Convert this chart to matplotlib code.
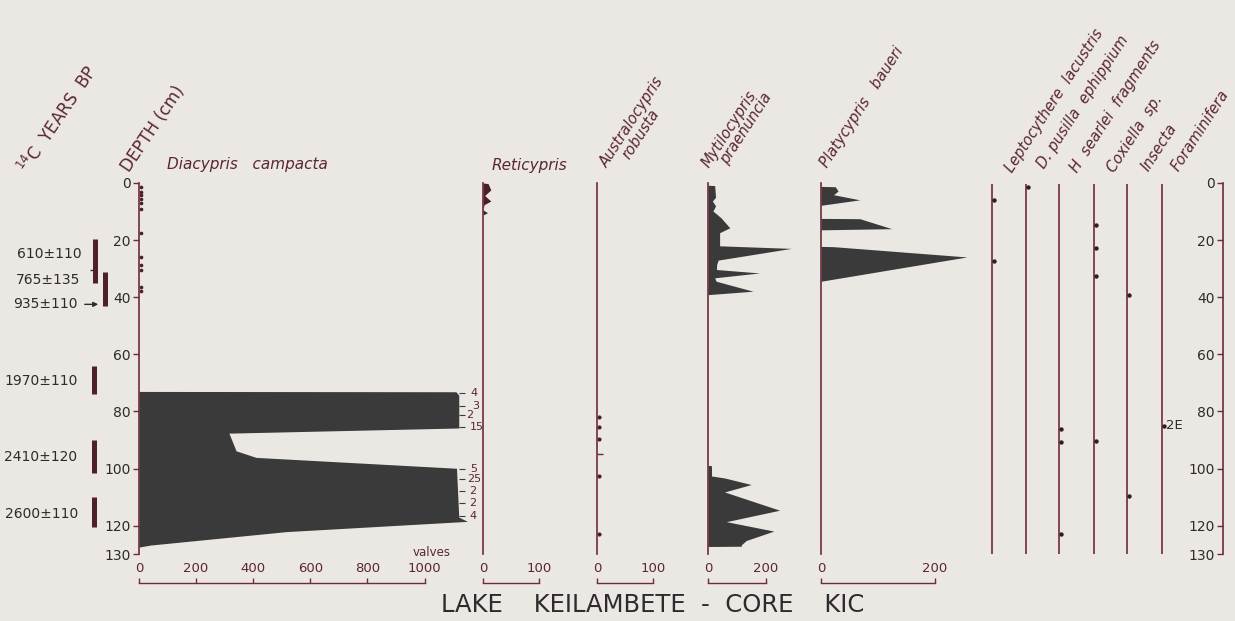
import matplotlib

matplotlib.use("Agg")
import matplotlib.pyplot as plt

W, H, DPI = 1235, 621, 100
Y0, Y130 = 183.0, 554.2  # pixel rows of depth 0 and 130 cm

BG = "#ebe7e3"
LINE = "#6d2b3b"
FILL = "#393a39"
TEXT = "#5a2634"
DARK = "#2f2a2d"

DEPTH_TICKS = [0, 20, 40, 60, 80, 100, 120, 130]

# 14C dates
DATE_LABELS = ["610±110", "765±135", "935±110", "1970±110", "2410±120", "2600±110"]
DATE_LABEL_DEPTH = [25.0, 34.0, 42.5, 69.5, 96.0, 116.0]
DATE_BAR_TOP = [19.7, 31.0, 64.0, 90.0, 110.0]
DATE_BAR_BOTTOM = [35.0, 43.0, 74.0, 101.5, 120.5]
DATE_TICK_DEPTH = 30.3

# Diacypris campacta (valves)
DIACYPRIS_DEPTH = [73.0, 73.1, 74.3, 85.8, 87.6, 93.8, 96.1, 99.9, 117.0, 118.5, 122.1, 126.8, 127.5]
DIACYPRIS_VALVES = [0, 1110, 1120, 1120, 315, 340, 410, 1112, 1120, 1150, 515, 40, 0]
DIACYPRIS_RARE_DEPTH = [1.5, 3.0, 4.3, 5.7, 7.0, 9.0, 17.6, 26.0, 28.8, 30.5, 36.5, 37.9]
DIACYPRIS_NOTE_DEPTH = [73.5, 78.0, 81.2, 85.6, 100.2, 103.6, 107.9, 112.0, 116.5]
DIACYPRIS_NOTES = ["4", "3", "2", "15", "5", "25", "2", "2", "4"]
DIACYPRIS_TICKS = [0, 200, 400, 600, 800, 1000]

# Reticypris
RETICYPRIS_DEPTH = [0.0, 0.2, 2.4, 4.4, 6.3, 7.6, 9.4, 10.4, 11.2]
RETICYPRIS_COUNT = [0, 9, 14, 3, 14, 2, 0, 8, 0]
RETICYPRIS_TICKS = [0, 100]

# Australocypris robusta
AUSTRALO_DEPTH = [81.8, 85.3, 89.5, 102.5, 123.0]
AUSTRALO_TICK_DEPTH = 95.0
AUSTRALO_TICKS = [0, 100]

# Mytilocypris praenuncia
MYTILO_DEPTH = [0.8, 0.9, 5.0, 6.3, 8.0, 9.8, 12.2, 15.7, 17.4, 22.0, 22.9, 27.0, 28.5,
                30.3, 31.5, 33.2, 34.4, 37.9, 39.1,
                98.9, 99.0, 102.6, 103.3, 105.6, 108.2, 114.6, 118.6, 121.9, 125.2, 126.7, 127.2, 127.3]
MYTILO_COUNT = [0, 23, 26, 15, 26, 17, 45, 75, 40, 40, 287, 35, 30,
                29, 178, 23, 28, 155, 0,
                0, 12, 12, 57, 149, 57, 247, 63, 227, 132, 115, 115, 0]
MYTILO_TICKS = [0, 200]

# Platycypris baueri
PLATY_DEPTH = [1.2, 1.3, 2.8, 4.1, 5.9, 7.8, 12.4, 12.5, 16.0, 16.4, 22.2, 22.3, 25.9, 34.4]
PLATY_COUNT = [0, 25, 30, 22, 68, 0, 0, 68, 124, 0, 0, 22, 256, 0]
PLATY_TICKS = [0, 200]

# presence-only taxa
MINOR_NAMES = ["Leptocythere  lacustris", "D. pusilla  ephippium", "H  searlei  fragments",
               "Coxiella  sp.", "Insecta", "Foraminifera"]
MINOR_DEPTHS = [[6.0, 27.4], [1.5], [86.0, 90.8, 122.9], [14.7, 22.7, 32.6, 90.2], [39.3, 109.5], [85.0]]
FORAM_NOTE = "2E"

# layout (pixels)
MINOR_X = [992, 1026, 1059, 1094, 1127, 1162]
MINOR_LABEL_XY = [(1012, 173), (1044, 169), (1077, 173), (1114, 173), (1149, 172), (1179, 172)]
NOTE_X = [1160, 1168, 1145, 1160, 1160, 1150, 1158, 1158, 1158]


def fx(x):
    return x / W


def fy(y):
    return 1 - y / H


def make_axes(fig, x0, x1):
    ax = fig.add_axes([fx(x0), fy(Y130), (x1 - x0) / W, (Y130 - Y0) / H])
    ax.set_ylim(130, 0)
    ax.patch.set_alpha(0)
    for spine in ax.spines.values():
        spine.set_visible(False)
    ax.tick_params(left=False, bottom=False, labelleft=False, labelbottom=False)
    return ax


def count_panel(fig, x0, x1, scale, ticks):
    ax = make_axes(fig, x0, x1)
    ax.set_xlim(0, (x1 - x0) / scale)
    left = ax.spines["left"]
    left.set_visible(True)
    left.set_color(LINE)
    left.set_linewidth(1.2)
    left.set_bounds(0, 130)
    bottom = ax.spines["bottom"]
    bottom.set_visible(True)
    bottom.set_color(LINE)
    bottom.set_linewidth(1.0)
    bottom.set_position(("outward", 20.5))
    bottom.set_bounds(ticks[0], ticks[-1])
    ax.set_xticks(ticks)
    ax.tick_params(axis="x", bottom=True, labelbottom=True, direction="in", length=3.5,
                   width=1.0, color=LINE, pad=-14.8, labelsize=9.5, labelcolor=TEXT)
    return ax


def depth_axis(ax):
    ax.set_yticks(DEPTH_TICKS)
    ax.tick_params(axis="y", left=True, labelleft=True, direction="out", length=4,
                   width=1.0, color=LINE, labelsize=10, labelcolor=DARK, pad=2)


def main():
    plt.rcParams["font.family"] = "DejaVu Sans"
    fig = plt.figure(figsize=(W / DPI, H / DPI), dpi=DPI, facecolor=BG)

    # 14C dates column
    ax = make_axes(fig, 0, 139)
    ax.set_xlim(0, 139)
    bar_x = [95, 105, 94, 94, 94]
    ax.vlines(bar_x, DATE_BAR_TOP, DATE_BAR_BOTTOM, color="#4e1f2c", lw=3.6)
    ax.hlines(DATE_TICK_DEPTH, 90, 95, color="#4e1f2c", lw=1.0)
    label_x = [82, 80, 78, 78, 77, 78]
    for x, d, s in zip(label_x, DATE_LABEL_DEPTH, DATE_LABELS):
        ax.text(x, d, s, ha="right", va="center", fontsize=10, color=DARK)
    ax.annotate("", xy=(101, DATE_LABEL_DEPTH[2]), xytext=(82, DATE_LABEL_DEPTH[2]),
                arrowprops=dict(arrowstyle="-|>", color=DARK, lw=1.0, mutation_scale=7))

    # Diacypris campacta
    ax = count_panel(fig, 139, 480, 0.2855, DIACYPRIS_TICKS)
    depth_axis(ax)
    ax.fill_betweenx(DIACYPRIS_DEPTH, 0, DIACYPRIS_VALVES, color=FILL, lw=0)
    ax.scatter([8] * len(DIACYPRIS_RARE_DEPTH), DIACYPRIS_RARE_DEPTH, s=7, color="#4a1f2b", lw=0)
    ax.hlines(DIACYPRIS_NOTE_DEPTH, 1120, 1142, color=FILL, lw=0.8)
    for x, d, s in zip(NOTE_X, DIACYPRIS_NOTE_DEPTH, DIACYPRIS_NOTES):
        ax.text(x, d, s, ha="left", va="center", fontsize=8, color=TEXT)
    ax.text(1025, 129.4, "valves", ha="center", va="center", fontsize=8.5, color=TEXT)

    # Reticypris
    ax = count_panel(fig, 483, 590, 0.56, RETICYPRIS_TICKS)
    ax.fill_betweenx(RETICYPRIS_DEPTH, 0, RETICYPRIS_COUNT, color="#4a1f2b", lw=0)

    # Australocypris robusta
    ax = count_panel(fig, 597, 700, 0.56, AUSTRALO_TICKS)
    ax.scatter([3] * len(AUSTRALO_DEPTH), AUSTRALO_DEPTH, s=9, color="#4a1f2b", lw=0)
    ax.hlines(AUSTRALO_TICK_DEPTH, 0, 10, color=LINE, lw=1.0)

    # Mytilocypris praenuncia
    ax = count_panel(fig, 708, 815, 0.29, MYTILO_TICKS)
    ax.fill_betweenx(MYTILO_DEPTH, 0, MYTILO_COUNT, color=FILL, lw=0)

    # Platycypris baueri
    ax = count_panel(fig, 821, 975, 0.57, PLATY_TICKS)
    ax.fill_betweenx(PLATY_DEPTH, 0, PLATY_COUNT, color=FILL, lw=0)

    # presence-only columns
    ax = make_axes(fig, 980, 1190)
    ax.set_xlim(980, 1190)
    ax.vlines(MINOR_X, 0.5, 130, color=LINE, lw=1.2)
    for x, depths in zip(MINOR_X, MINOR_DEPTHS):
        ax.scatter([x + 1.5] * len(depths), depths, s=10, color="#3a1820", lw=0, zorder=3)
    ax.text(MINOR_X[-1] + 4, MINOR_DEPTHS[-1][0], FORAM_NOTE, ha="left", va="center",
            fontsize=9.5, color=DARK)

    # right depth axis
    ax = make_axes(fig, 1223, 1235)
    ax.spines["left"].set_visible(True)
    ax.spines["left"].set_color(LINE)
    ax.spines["left"].set_linewidth(1.2)
    depth_axis(ax)

    # column headings
    head = dict(fontsize=12, color=TEXT, rotation=56, rotation_mode="anchor",
                ha="left", va="baseline")
    fig.text(fx(28), fy(175), r"$^{14}$C  YEARS  BP", **head)
    fig.text(fx(129), fy(173), "DEPTH (cm)", **head)
    fig.text(fx(167), fy(169), "Diacypris   campacta", fontsize=11, color=TEXT,
             style="italic", ha="left", va="baseline")
    fig.text(fx(492), fy(170), "Reticypris", fontsize=11, color=TEXT, style="italic",
             ha="left", va="baseline")
    ital = dict(head, style="italic", fontsize=10.5, rotation=57)
    fig.text(fx(607), fy(168), "Australocypris", **ital)
    fig.text(fx(629), fy(160), "robusta", **ital)
    fig.text(fx(709), fy(168), "Mytilocypris", **ital)
    fig.text(fx(728), fy(165), "praenuncia", **ital)
    fig.text(fx(827), fy(168), "Platycypris   baueri", **ital)
    for (x, y), name in zip(MINOR_LABEL_XY, MINOR_NAMES):
        fig.text(fx(x), fy(y), name, **ital)

    fig.text(fx(653), fy(612), "LAKE    KEILAMBETE  -  CORE    KIC", fontsize=17.5,
             color=DARK, ha="center", va="baseline")

    fig.savefig("out.png", dpi=DPI, facecolor=BG)
    plt.close(fig)


if __name__ == "__main__":
    main()
